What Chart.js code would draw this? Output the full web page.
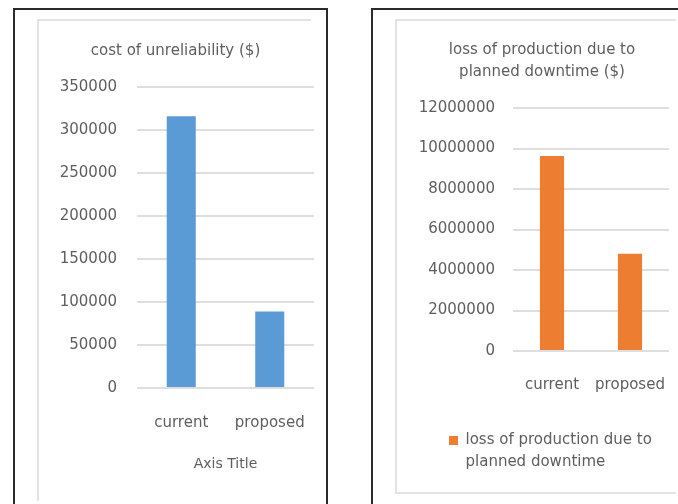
<!DOCTYPE html>
<html><head><meta charset="utf-8">
<script src="https://cdn.jsdelivr.net/npm/chart.js@4/dist/chart.umd.min.js"></script>
<style>
html,body{margin:0;padding:0;background:#fff;width:678px;height:504px;overflow:hidden;}
body{position:relative;}
.frame{position:absolute;border:2px solid #2b2b2b;box-sizing:border-box;}
#f1{left:13px;top:8px;width:315px;height:520px;}
#f2{left:371px;top:8px;width:330px;height:520px;}
.inner{position:absolute;box-sizing:border-box;}
#i1{left:37px;top:19px;width:274px;height:482px;border-left:2px solid #e3e3e3;border-top:2px solid #e3e3e3;}
#i2{left:395px;top:19px;width:281px;height:475px;border:2px solid #e3e3e3;border-right:none;}
canvas{position:absolute;}
#c1{left:37px;top:19px;}
#c2{left:395px;top:19px;}
</style>
</head>
<body>
<div class="frame" id="f1"></div>
<div class="frame" id="f2"></div>
<div class="inner" id="i1"></div>
<div class="inner" id="i2"></div>
<canvas id="c1" width="277" height="481"></canvas>
<canvas id="c2" width="280" height="473"></canvas>
<script>
const categories = ['current', 'proposed'];
const costOfUnreliability = [316000, 89000];
const lossOfProduction = [9630000, 4800000];
const leftTitle = 'cost of unreliability ($)';
const leftAxisTitle = 'Axis Title';
const rightTitle = ['loss of production due to', 'planned downtime ($)'];
const legendLabel = ['loss of production due to', 'planned downtime'];

const FONT = 'DejaVu Sans';
const TXT = '#5e5e5e';
const GRID = '#dedede';
Chart.defaults.font.family = FONT;
Chart.defaults.color = TXT;

const plainTick = v => String(v);

// let the two-line legend label draw fully (legend box is sized for one row)
const legendClipFix = {
  id: 'legendClipFix',
  afterLayout(chart) {
    const l = chart.legend;
    if (l && l.options.display) { l.bottom += 30; l.height += 30; }
  }
};

new Chart(document.getElementById('c1'), {
  type: 'bar',
  data: {
    labels: categories,
    datasets: [{
      label: leftTitle,
      data: costOfUnreliability,
      backgroundColor: '#5b9bd5',
      borderWidth: 0,
      barPercentage: 0.328,
      categoryPercentage: 1
    }]
  },
  options: {
    responsive: false, animation: false, devicePixelRatio: 1,
    layout: {padding: {left: 0, right: 0, top: 0, bottom: 12}},
    plugins: {
      legend: {display: false},
      tooltip: {enabled: false},
      title: {display: true, text: leftTitle, color: TXT,
        font: {family: FONT, size: 15, weight: 'normal', lineHeight: 1.2},
        padding: {top: 23, bottom: 27}}
    },
    scales: {
      x: {
        grid: {display: false, drawTicks: true, tickLength: 26}, border: {display: false},
        ticks: {color: TXT, font: {size: 15, lineHeight: 1.2}, padding: 0, maxRotation: 0, autoSkip: false},
        title: {display: true, text: leftAxisTitle, color: TXT, font: {size: 14, lineHeight: 1.2}, padding: {top: 0, bottom: 15}},
        afterFit(s) { s.height = 100; }
      },
      y: {
        min: 0, max: 350000,
        ticks: {stepSize: 50000, color: TXT, font: {size: 15, lineHeight: 1.2}, padding: 20, callback: plainTick},
        grid: {color: GRID, lineWidth: 2, drawTicks: false},
        border: {display: false},
        afterFit(s) { s.width = 100; }
      }
    }
  }
});

new Chart(document.getElementById('c2'), {
  type: 'bar',
  data: {
    labels: categories,
    datasets: [{
      label: 'loss of production due to planned downtime',
      data: lossOfProduction,
      backgroundColor: '#ed7d31',
      borderWidth: 0,
      barPercentage: 0.31,
      categoryPercentage: 1
    }]
  },
  plugins: [legendClipFix],
  options: {
    responsive: false, animation: false, devicePixelRatio: 1,
    layout: {padding: {left: 20, right: 6, top: 0, bottom: 34}},
    plugins: {
      tooltip: {enabled: false},
      title: {display: true, text: rightTitle, color: TXT,
        font: {family: FONT, size: 15, weight: 'normal', lineHeight: 22 / 15},
        padding: {top: 20, bottom: 25}},
      legend: {
        display: true, position: 'bottom', align: 'start',
        labels: {
          boxWidth: 9, boxHeight: 9, padding: 34, color: TXT,
          font: {size: 15, lineHeight: 22 / 15},
          generateLabels(chart) {
            const items = Chart.defaults.plugins.legend.labels.generateLabels(chart);
            items.forEach(it => { it.text = legendLabel; it.lineWidth = 0; });
            return items;
          }
        }
      }
    },
    scales: {
      x: {
        grid: {display: false, drawTicks: true, tickLength: 25}, border: {display: false},
        ticks: {color: TXT, font: {size: 15, lineHeight: 1.2}, padding: 0, maxRotation: 0, autoSkip: false},
        afterFit(s) { s.height = 48; }
      },
      y: {
        min: 0, max: 12000000,
        ticks: {stepSize: 2000000, color: TXT, font: {size: 15, lineHeight: 1.2}, padding: 18, callback: plainTick},
        grid: {color: GRID, lineWidth: 2, drawTicks: false},
        border: {display: false},
        afterFit(s) { s.width = 98; }
      }
    }
  }
});
</script>
</body></html>
